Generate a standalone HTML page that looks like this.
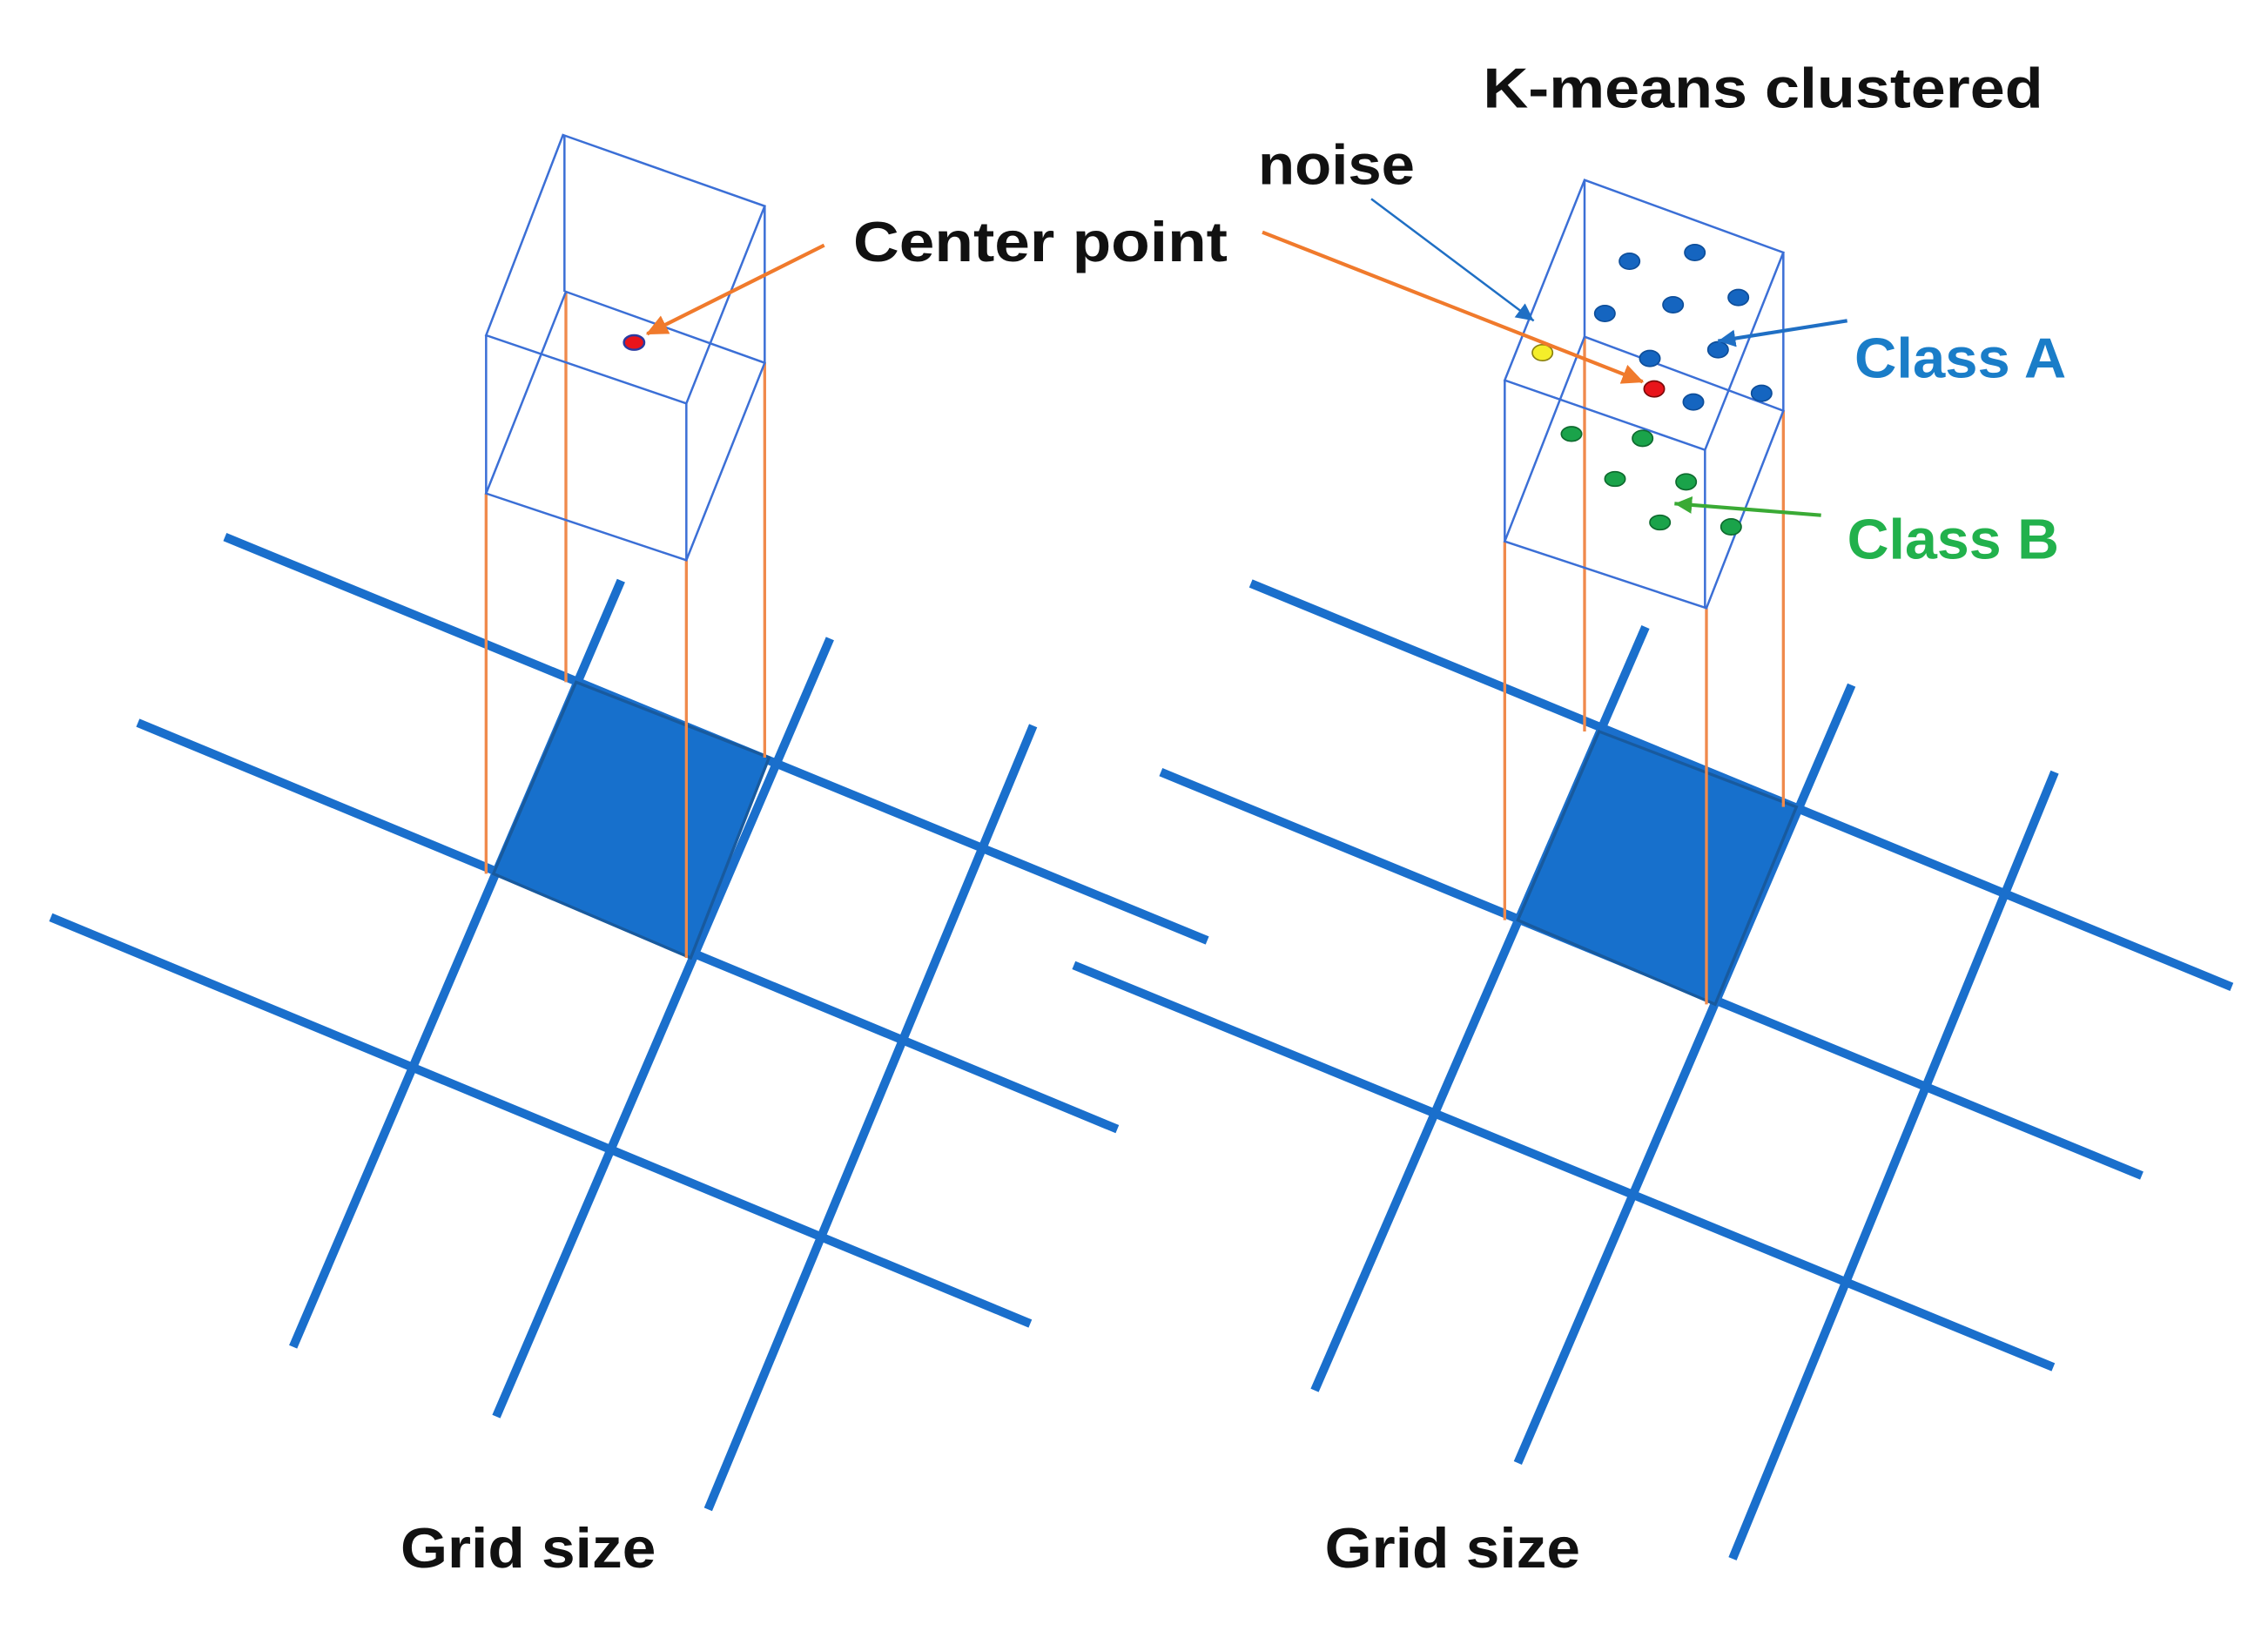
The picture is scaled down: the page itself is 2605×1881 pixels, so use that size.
<!DOCTYPE html>
<html><head><meta charset="utf-8"><style>html,body{margin:0;padding:0;background:#fff}svg{display:block}</style></head>
<body>
<svg width="2605" height="1881" viewBox="0 0 1563 1128.6" xmlns="http://www.w3.org/2000/svg">
<defs>
<marker id="ab" markerWidth="14" markerHeight="14" refX="12" refY="6" orient="auto" markerUnits="userSpaceOnUse"><path d="M0,0 L12,6 L0,12 z" fill="#1f6fc4"/></marker>
<marker id="ag" markerWidth="14" markerHeight="14" refX="12" refY="6" orient="auto" markerUnits="userSpaceOnUse"><path d="M0,0 L12,6 L0,12 z" fill="#3aaa35"/></marker>
<marker id="ao2" markerWidth="16" markerHeight="14" refX="14" refY="7" orient="auto" markerUnits="userSpaceOnUse"><path d="M0,0 L15,7 L0,14 z" fill="#f07a2c"/></marker>
</defs>
<g stroke="#1a6fcc" stroke-width="6" stroke-linecap="butt">
<line x1="155" y1="370" x2="832" y2="648"/>
<line x1="95" y1="498" x2="770" y2="778"/>
<line x1="35" y1="632" x2="710" y2="912"/>
<line x1="428" y1="400" x2="202" y2="928"/>
<line x1="572" y1="440" x2="342" y2="976"/>
<line x1="712" y1="500" x2="488" y2="1040"/>
<line x1="862" y1="402" x2="1538" y2="680"/>
<line x1="800" y1="532" x2="1476" y2="810"/>
<line x1="740" y1="665" x2="1415" y2="942"/>
<line x1="1134" y1="432" x2="906" y2="958"/>
<line x1="1276" y1="472" x2="1046" y2="1008"/>
<line x1="1416" y1="532" x2="1194" y2="1074"/>
</g>
<polygon points="397,470 530,522 476,660 340,602" fill="#1770cc" stroke="#185a9e" stroke-width="2"/>
<polygon points="1102,504 1238,556 1182,692 1046,634" fill="#1770cc" stroke="#185a9e" stroke-width="2"/>
<g stroke="#f08a4c" stroke-width="2">
<line x1="335" y1="340" x2="335" y2="602"/><line x1="390" y1="201" x2="390" y2="470"/>
<line x1="473" y1="386" x2="473" y2="660"/><line x1="527" y1="250" x2="527" y2="522"/>
<line x1="1037" y1="373" x2="1037" y2="634"/><line x1="1092" y1="232" x2="1092" y2="504"/>
<line x1="1176" y1="419" x2="1176" y2="692"/><line x1="1229" y1="283" x2="1229" y2="556"/>
</g>
<g stroke="#3b6fd6" stroke-width="1.5" fill="none">
<polygon points="388,93 527,142 473,278 335,231"/>
<polygon points="390,201 527,250 473,386 335,340"/>
<line x1="389" y1="93" x2="389" y2="201"/><line x1="527" y1="142" x2="527" y2="250"/>
<line x1="473" y1="278" x2="473" y2="386"/><line x1="335" y1="231" x2="335" y2="340"/>
<polygon points="1092,124 1229,174 1175,310 1037,262"/>
<polygon points="1092,232 1229,283 1176,419 1037,373"/>
<line x1="1092" y1="124" x2="1092" y2="232"/><line x1="1229" y1="174" x2="1229" y2="283"/>
<line x1="1175" y1="310" x2="1175" y2="419"/><line x1="1037" y1="262" x2="1037" y2="373"/>
</g>
<g fill="#1565c0" stroke="#0d4d99" stroke-width="1">
<ellipse cx="1123" cy="180" rx="7" ry="5.5"/><ellipse cx="1168" cy="174" rx="7" ry="5.5"/>
<ellipse cx="1106" cy="216" rx="7" ry="5.5"/><ellipse cx="1153" cy="210" rx="7" ry="5.5"/>
<ellipse cx="1198" cy="205" rx="7" ry="5.5"/><ellipse cx="1137" cy="247" rx="7" ry="5.5"/>
<ellipse cx="1184" cy="241" rx="7" ry="5.5"/><ellipse cx="1167" cy="277" rx="7" ry="5.5"/>
<ellipse cx="1214" cy="271" rx="7" ry="5.5"/>
</g>
<g fill="#1aa34a" stroke="#0e6a2e" stroke-width="1">
<ellipse cx="1083" cy="299" rx="7" ry="5"/><ellipse cx="1132" cy="302" rx="7" ry="5.5"/>
<ellipse cx="1113" cy="330" rx="7" ry="5"/><ellipse cx="1162" cy="332" rx="7" ry="5.5"/>
<ellipse cx="1144" cy="360" rx="7" ry="5"/><ellipse cx="1193" cy="363" rx="7" ry="5.5"/>
</g>
<ellipse cx="1140" cy="268" rx="7" ry="5.5" fill="#e8141b" stroke="#7a0a0a"/>
<ellipse cx="1063" cy="243" rx="7" ry="5.5" fill="#f4ee2a" stroke="#8a8010"/>
<ellipse cx="437" cy="236" rx="7" ry="5" fill="#e8141b" stroke="#2b3aa0" stroke-width="1.5"/>
<g fill="none">
<line x1="568" y1="169" x2="446" y2="230" stroke="#f07a2c" stroke-width="2.5" marker-end="url(#ao2)"/>
<line x1="870" y1="160" x2="1132" y2="263" stroke="#f07a2c" stroke-width="2.5" marker-end="url(#ao2)"/>
<line x1="945" y1="137" x2="1057" y2="221" stroke="#1f6fc4" stroke-width="1.5" marker-end="url(#ab)"/>
<line x1="1273" y1="221" x2="1184" y2="235" stroke="#1f6fc4" stroke-width="2.5" marker-end="url(#ab)"/>
<line x1="1255" y1="355" x2="1154" y2="347" stroke="#3aaa35" stroke-width="2.5" marker-end="url(#ag)"/>
</g>
<g font-family="Liberation Sans, sans-serif" font-weight="bold" font-size="39" fill="#111">
<text x="1022" y="74" textLength="386" lengthAdjust="spacingAndGlyphs">K-means clustered</text>
<text x="867" y="127" textLength="108" lengthAdjust="spacingAndGlyphs">noise</text>
<text x="588" y="180" textLength="258" lengthAdjust="spacingAndGlyphs">Center point</text>
<text x="1278" y="260" fill="#1a7dc8" textLength="146" lengthAdjust="spacingAndGlyphs">Class A</text>
<text x="1273" y="385" fill="#22b14c" textLength="146" lengthAdjust="spacingAndGlyphs">Class B</text>
<text x="276" y="1080" textLength="176" lengthAdjust="spacingAndGlyphs">Grid size</text>
<text x="913" y="1080" textLength="176" lengthAdjust="spacingAndGlyphs">Grid size</text>
</g>
</svg>
</body></html>
